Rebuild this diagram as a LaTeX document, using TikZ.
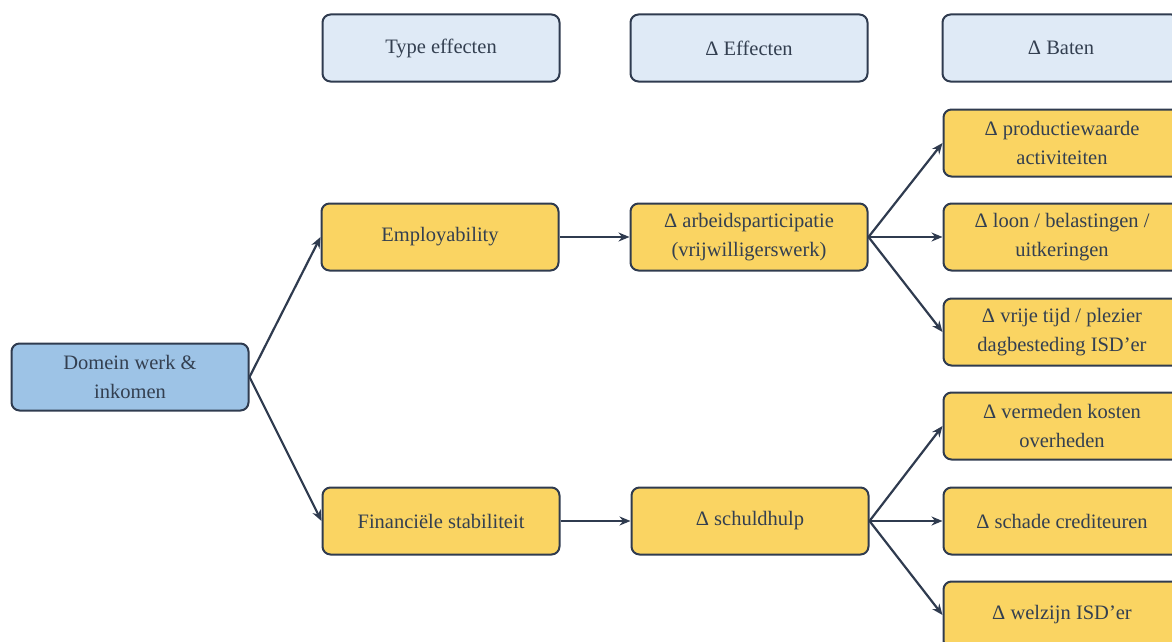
\documentclass[tikz,border=0pt]{standalone}
\usepackage{fontspec}
\setmainfont{Liberation Serif}
\newfontfamily\tijd{Liberation Serif}
\usetikzlibrary{arrows.meta}
\definecolor{rand}{HTML}{2F3B4F}
\definecolor{tekst}{HTML}{333F50}
\definecolor{geel}{HTML}{FAD462}
\definecolor{blauw}{HTML}{9DC3E6}
\definecolor{licht}{HTML}{DFEAF6}
\tikzset{
  blok/.style={draw=rand, line width=2pt, rounded corners=8pt, minimum width=237pt,
    minimum height=67pt, inner sep=0pt, align=center, text=tekst,
    font=\tijd\fontsize{20.5}{29}\selectfont},
  kop/.style={blok, fill=licht},
  effect/.style={blok, fill=geel},
  pijl/.style={draw=rand, line width=2.2pt, -{Stealth[length=11pt,width=9pt]}}
}
\begin{document}
\begin{tikzpicture}[x=1pt,y=-1pt]
		\useasboundingbox (0,0) rectangle (1172,642);
		\node[kop] (K1) at (441,48)  {Type effecten};
		\node[kop] (K2) at (749,48)  {Δ Effecten};
		\node[kop] (K3) at (1061,48) {Δ Baten};
		
		\node[blok, fill=blauw] (D) at (130,377) {Domein werk \&\\inkomen};
		\node[effect] (E) at (440,237) {Employability};
		\node[effect] (F) at (441,521) {Financiële stabiliteit};
		\node[effect] (A) at (749,237) {Δ arbeidsparticipatie\\(vrijwilligerswerk)};
		\node[effect] (S) at (750,521) {Δ schuldhulp};
		
		\node[effect] (B1) at (1062,143) {Δ productiewaarde\\activiteiten};
		\node[effect] (B2) at (1062,237) {Δ loon / belastingen /\\uitkeringen};
		\node[effect] (B3) at (1062,332) {Δ vrije tijd / plezier\\dagbesteding ISD’er};
		\node[effect] (B4) at (1062,426) {Δ vermeden kosten\\overheden};
		\node[effect] (B5) at (1062,521) {Δ schade crediteuren};
		\node[effect] (B6) at (1062,615) {Δ welzijn ISD’er};
		
		\draw[pijl] (D.east) to (E.west);
		\draw[pijl] (D.east) to (F.west);
		\draw[pijl] (E) to (A);
		\draw[pijl] (F) to (S);
		\draw[pijl] (A.east) to (B1.west);
		\draw[pijl] (A.east) to (B2.west);
		\draw[pijl] (A.east) to (B3.west);
		\draw[pijl] (S.east) to (B4.west);
		\draw[pijl] (S.east) to (B5.west);
		\draw[pijl] (S.east) to (B6.west);
\end{tikzpicture}
\end{document}
